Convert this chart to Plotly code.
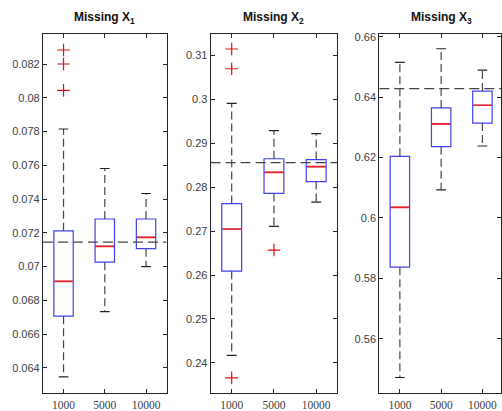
import plotly.graph_objects as go

# ---------------- data ----------------
sizes = ["1000", "5000", "10000"]
positions = [1, 2, 3]

x1_q1 = [0.06706, 0.07026, 0.07106]
x1_med = [0.06912, 0.07120, 0.07173]
x1_q3 = [0.07212, 0.07282, 0.07282]
x1_lo = [0.06347, 0.06733, 0.07000]
x1_hi = [0.07815, 0.07581, 0.07433]
x1_out_pos = [1, 1, 1]
x1_out_val = [0.08283, 0.08200, 0.08044]
x1_ref = 0.07145

x2_q1 = [0.2609, 0.2786, 0.2813]
x2_med = [0.2705, 0.2834, 0.2847]
x2_q3 = [0.2763, 0.2865, 0.2863]
x2_lo = [0.2417, 0.2711, 0.2766]
x2_hi = [0.2991, 0.2929, 0.2922]
x2_out_pos = [1, 1, 1, 2]
x2_out_val = [0.3115, 0.3070, 0.2366, 0.2657]
x2_ref = 0.2856

x3_q1 = [0.5837, 0.6236, 0.6314]
x3_med = [0.6035, 0.6311, 0.6373]
x3_q3 = [0.6204, 0.6364, 0.6420]
x3_lo = [0.5472, 0.6093, 0.6238]
x3_hi = [0.6515, 0.6560, 0.6489]
x3_out_pos = []
x3_out_val = []
x3_ref = 0.6428

y1_ticks = [0.064, 0.066, 0.068, 0.070, 0.072, 0.074, 0.076, 0.078, 0.080, 0.082]
y1_labels = ["0.064", "0.066", "0.068", "0.07", "0.072", "0.074", "0.076", "0.078", "0.08", "0.082"]
y2_ticks = [0.24, 0.25, 0.26, 0.27, 0.28, 0.29, 0.30, 0.31]
y2_labels = ["0.24", "0.25", "0.26", "0.27", "0.28", "0.29", "0.3", "0.31"]
y3_ticks = [0.56, 0.58, 0.60, 0.62, 0.64, 0.66]
y3_labels = ["0.56", "0.58", "0.6", "0.62", "0.64", "0.66"]

titles = ["<b>Missing X<sub>1</sub></b>", "<b>Missing X<sub>2</sub></b>", "<b>Missing X<sub>3</sub></b>"]

# ---------------- style ----------------
W, H = 502, 411
BOX_W = 0.47
CAP_W = BOX_W / 2
AX_COL = "#262626"
panels = [
    dict(q1=x1_q1, med=x1_med, q3=x1_q3, lo=x1_lo, hi=x1_hi, op=x1_out_pos, ov=x1_out_val,
         ref=x1_ref, yr=[0.0625, 0.0838], yt=y1_ticks, yl=y1_labels, dom=[43 / W, 167 / W], xr=[0.5, 3.5]),
    dict(q1=x2_q1, med=x2_med, q3=x2_q3, lo=x2_lo, hi=x2_hi, op=x2_out_pos, ov=x2_out_val,
         ref=x2_ref, yr=[0.2331, 0.3150], yt=y2_ticks, yl=y2_labels, dom=[211 / W, 338 / W], xr=[0.5, 3.5]),
    dict(q1=x3_q1, med=x3_med, q3=x3_q3, lo=x3_lo, hi=x3_hi, op=x3_out_pos, ov=x3_out_val,
         ref=x3_ref, yr=[0.542, 0.661], yt=y3_ticks, yl=y3_labels, dom=[380 / W, 1.0], xr=[0.5, 3.45]),
]
title_x = [105 / W, 274 / W, 442 / W]

fig = go.Figure()
ydom = [1 - 395 / H, 1 - 31 / H]

for i, p in enumerate(panels):
    n = "" if i == 0 else str(i + 1)
    xa, ya = "x" + n, "y" + n

    # reference dashed line
    fig.add_trace(go.Scatter(x=[p["xr"][0], p["xr"][1]], y=[p["ref"], p["ref"]], mode="lines",
                             line=dict(color="#444444", width=1.2, dash="10px,5px"),
                             xaxis=xa, yaxis=ya, showlegend=False, hoverinfo="skip"))

    # whiskers (dashed)
    wx, wy = [], []
    for pos, q1, q3, lo, hi in zip(positions, p["q1"], p["q3"], p["lo"], p["hi"]):
        wx += [pos, pos, None, pos, pos, None]
        wy += [q3, hi, None, q1, lo, None]
    fig.add_trace(go.Scatter(x=wx, y=wy, mode="lines",
                             line=dict(color="#444444", width=1.2, dash="8px,4px"),
                             xaxis=xa, yaxis=ya, showlegend=False, hoverinfo="skip"))
    # caps
    cx, cy = [], []
    for pos, lo, hi in zip(positions, p["lo"], p["hi"]):
        cx += [pos - CAP_W / 2, pos + CAP_W / 2, None, pos - CAP_W / 2, pos + CAP_W / 2, None]
        cy += [hi, hi, None, lo, lo, None]
    fig.add_trace(go.Scatter(x=cx, y=cy, mode="lines", line=dict(color="#222222", width=1.2),
                             xaxis=xa, yaxis=ya, showlegend=False, hoverinfo="skip"))

    # boxes
    fig.add_trace(go.Box(x=positions, q1=p["q1"], median=p["med"], q3=p["q3"],
                         lowerfence=p["q1"], upperfence=p["q3"], width=BOX_W,
                         whiskerwidth=0, line=dict(color="#4040f0", width=1.2),
                         fillcolor="rgba(0,0,0,0)", boxpoints=False,
                         xaxis=xa, yaxis=ya, showlegend=False, hoverinfo="skip"))
    # medians (drawn over the box's own median line)
    mx, my = [], []
    for pos, m in zip(positions, p["med"]):
        mx += [pos - BOX_W / 2 + 0.015, pos + BOX_W / 2 - 0.015, None]
        my += [m, m, None]
    fig.add_trace(go.Scatter(x=mx, y=my, mode="lines", line=dict(color="#f02020", width=1.7),
                             xaxis=xa, yaxis=ya, showlegend=False, hoverinfo="skip"))
    # outliers
    if p["op"]:
        fig.add_trace(go.Scatter(x=p["op"], y=p["ov"], mode="markers",
                                 marker=dict(symbol="cross-thin", size=9,
                                             line=dict(color="#e01010", width=1.2)),
                                 xaxis=xa, yaxis=ya, showlegend=False, hoverinfo="skip"))

    fig.update_layout(**{
        "xaxis" + n: dict(domain=p["dom"], range=p["xr"], anchor=ya, tickvals=positions, ticktext=sizes,
                          ticks="inside", ticklen=4, tickcolor=AX_COL, showline=True, linecolor=AX_COL,
                          linewidth=1, mirror="ticks", showgrid=False, zeroline=False,
                          ticklabelstandoff=1,
                          tickfont=dict(family="Liberation Serif", size=11.5, color="#404040")),
        "yaxis" + n: dict(domain=ydom, range=p["yr"], anchor=xa, tickvals=p["yt"], ticktext=p["yl"],
                          ticks="inside", ticklen=4, tickcolor=AX_COL, showline=True, linecolor=AX_COL,
                          linewidth=1, mirror="ticks", showgrid=False, zeroline=False,
                          tickfont=dict(family="Liberation Sans", size=11, color="#404040")),
    })
    fig.add_annotation(x=title_x[i], y=1 - 15 / H, xref="paper", yref="paper", text=titles[i],
                       showarrow=False, xanchor="center", yanchor="middle",
                       font=dict(family="Liberation Sans", size=12, color="#111111"))

fig.update_layout(width=W, height=H, margin=dict(l=0, r=0, t=0, b=0),
                  paper_bgcolor="white", plot_bgcolor="white", showlegend=False, boxmode="overlay")

fig.write_html("out.html", config={"displayModeBar": False, "staticPlot": True},
               post_script="document.body.style.margin='0px';")
